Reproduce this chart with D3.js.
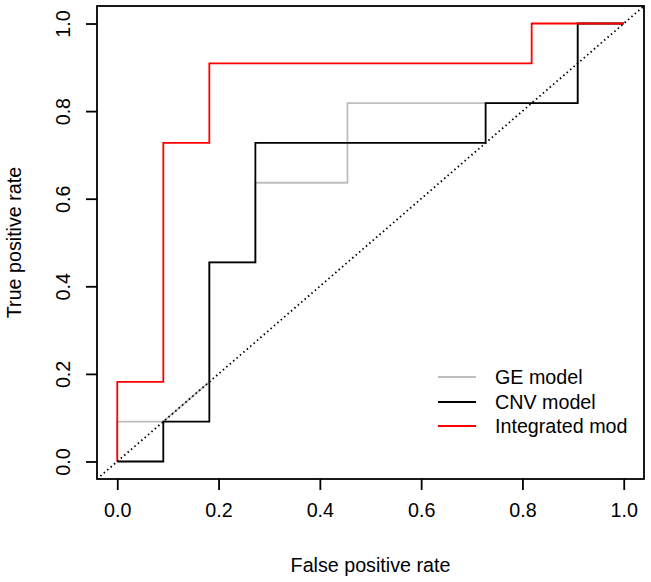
<!DOCTYPE html>
<html><head><meta charset="utf-8">
<script src="https://cdn.jsdelivr.net/npm/d3@7"></script>
<style>body{margin:0;background:#fff}svg{display:block}text{font-family:"Liberation Sans",Arial,Helvetica,sans-serif;fill:#000}</style>
</head><body>
<script>
const geFpr  = [0, 0, 0.0909, 0.1818, 0.1818, 0.2727, 0.2727, 0.4545, 0.4545, 0.9091, 0.9091, 1];
const geTpr  = [0, 0.0909, 0.0909, 0.1818, 0.4545, 0.4545, 0.6364, 0.6364, 0.8182, 0.8182, 1, 1];
const cnvFpr = [0, 0.0909, 0.0909, 0.1818, 0.1818, 0.2727, 0.2727, 0.7273, 0.7273, 0.9091, 0.9091, 1];
const cnvTpr = [0, 0, 0.0909, 0.0909, 0.4545, 0.4545, 0.7273, 0.7273, 0.8182, 0.8182, 1, 1];
const intFpr = [0, 0, 0.0909, 0.0909, 0.1818, 0.1818, 0.8182, 0.8182, 1];
const intTpr = [0, 0.1818, 0.1818, 0.7273, 0.7273, 0.9091, 0.9091, 1, 1];
const seriesNames = ["GE model", "CNV model", "Integrated mod"];
const seriesColors = ["#bebebe", "#000000", "#ff0000"];
const ticks = [0, 0.2, 0.4, 0.6, 0.8, 1.0];
const tickLabels = ["0.0", "0.2", "0.4", "0.6", "0.8", "1.0"];
const xTitle = "False positive rate", yTitle = "True positive rate";

const W = 651, H = 582;
const L = 97, R = 644, T = 6, B = 479;
const fs = 19.7;
const x = d3.scaleLinear().domain([-0.04, 1.04]).range([L, R]);
const y = d3.scaleLinear().domain([-0.04, 1.04]).range([B, T]);

const svg = d3.select("body").append("svg").attr("width", W).attr("height", H);
svg.append("defs").append("clipPath").attr("id", "clip")
  .append("rect").attr("x", L).attr("y", T).attr("width", R - L).attr("height", B - T);

const line = d3.line().x(d => x(d[0])).y(d => y(d[1]));
const series = [d3.zip(geFpr, geTpr), d3.zip(cnvFpr, cnvTpr), d3.zip(intFpr, intTpr)];
const g = svg.append("g").attr("clip-path", "url(#clip)");
series.forEach((s, i) => {
  g.append("path").attr("d", line(s)).attr("fill", "none")
    .attr("stroke", seriesColors[i]).attr("stroke-width", 1.8);
});
g.append("path").attr("d", line([[-0.04, -0.04], [1.04, 1.04]])).attr("fill", "none")
  .attr("stroke", "#000").attr("stroke-width", 1.8).attr("stroke-dasharray", "1.5,3");

// box
svg.append("rect").attr("x", L).attr("y", T).attr("width", R - L).attr("height", B - T)
  .attr("fill", "none").attr("stroke", "#000").attr("stroke-width", 1.8);

// x axis
const xa = svg.append("g").attr("transform", `translate(0,${B})`)
  .call(d3.axisBottom(x).tickValues(ticks).tickFormat((d, i) => tickLabels[i]).tickSize(11).tickPadding(13));
xa.select(".domain").remove();
xa.selectAll("line").attr("stroke-width", 1.8);
xa.selectAll("text").attr("font-size", fs).attr("font-family", "Liberation Sans, Arial, sans-serif").attr("fill", "#000");

// y axis
const ya = svg.append("g").attr("transform", `translate(${L},0)`)
  .call(d3.axisLeft(y).tickValues(ticks).tickFormat((d, i) => tickLabels[i]).tickSize(11));
ya.select(".domain").remove();
ya.selectAll("line").attr("stroke-width", 1.8);
ya.selectAll("text").remove();
ya.selectAll(".tick").append("text")
  .attr("transform", "translate(-27,0) rotate(-90)")
  .attr("text-anchor", "middle").attr("dy", 0)
  .attr("font-size", fs).attr("font-family", "Liberation Sans, Arial, sans-serif").attr("fill", "#000")
  .text((d, i) => tickLabels[i]);

// titles
svg.append("text").attr("x", (L + R) / 2).attr("y", 572).attr("text-anchor", "middle")
  .attr("font-size", fs).text(xTitle);
svg.append("text").attr("transform", `translate(21,${(T + B) / 2}) rotate(-90)`).attr("text-anchor", "middle")
  .attr("font-size", fs).text(yTitle);

// legend
const legY = [377, 402, 426];
seriesNames.forEach((n, i) => {
  svg.append("line").attr("x1", 438).attr("x2", 476).attr("y1", legY[i]).attr("y2", legY[i])
    .attr("stroke", seriesColors[i]).attr("stroke-width", 1.8);
  svg.append("text").attr("x", 495).attr("y", legY[i]).attr("dy", "0.35em")
    .attr("font-size", fs).text(n);
});
</script>
</body></html>
